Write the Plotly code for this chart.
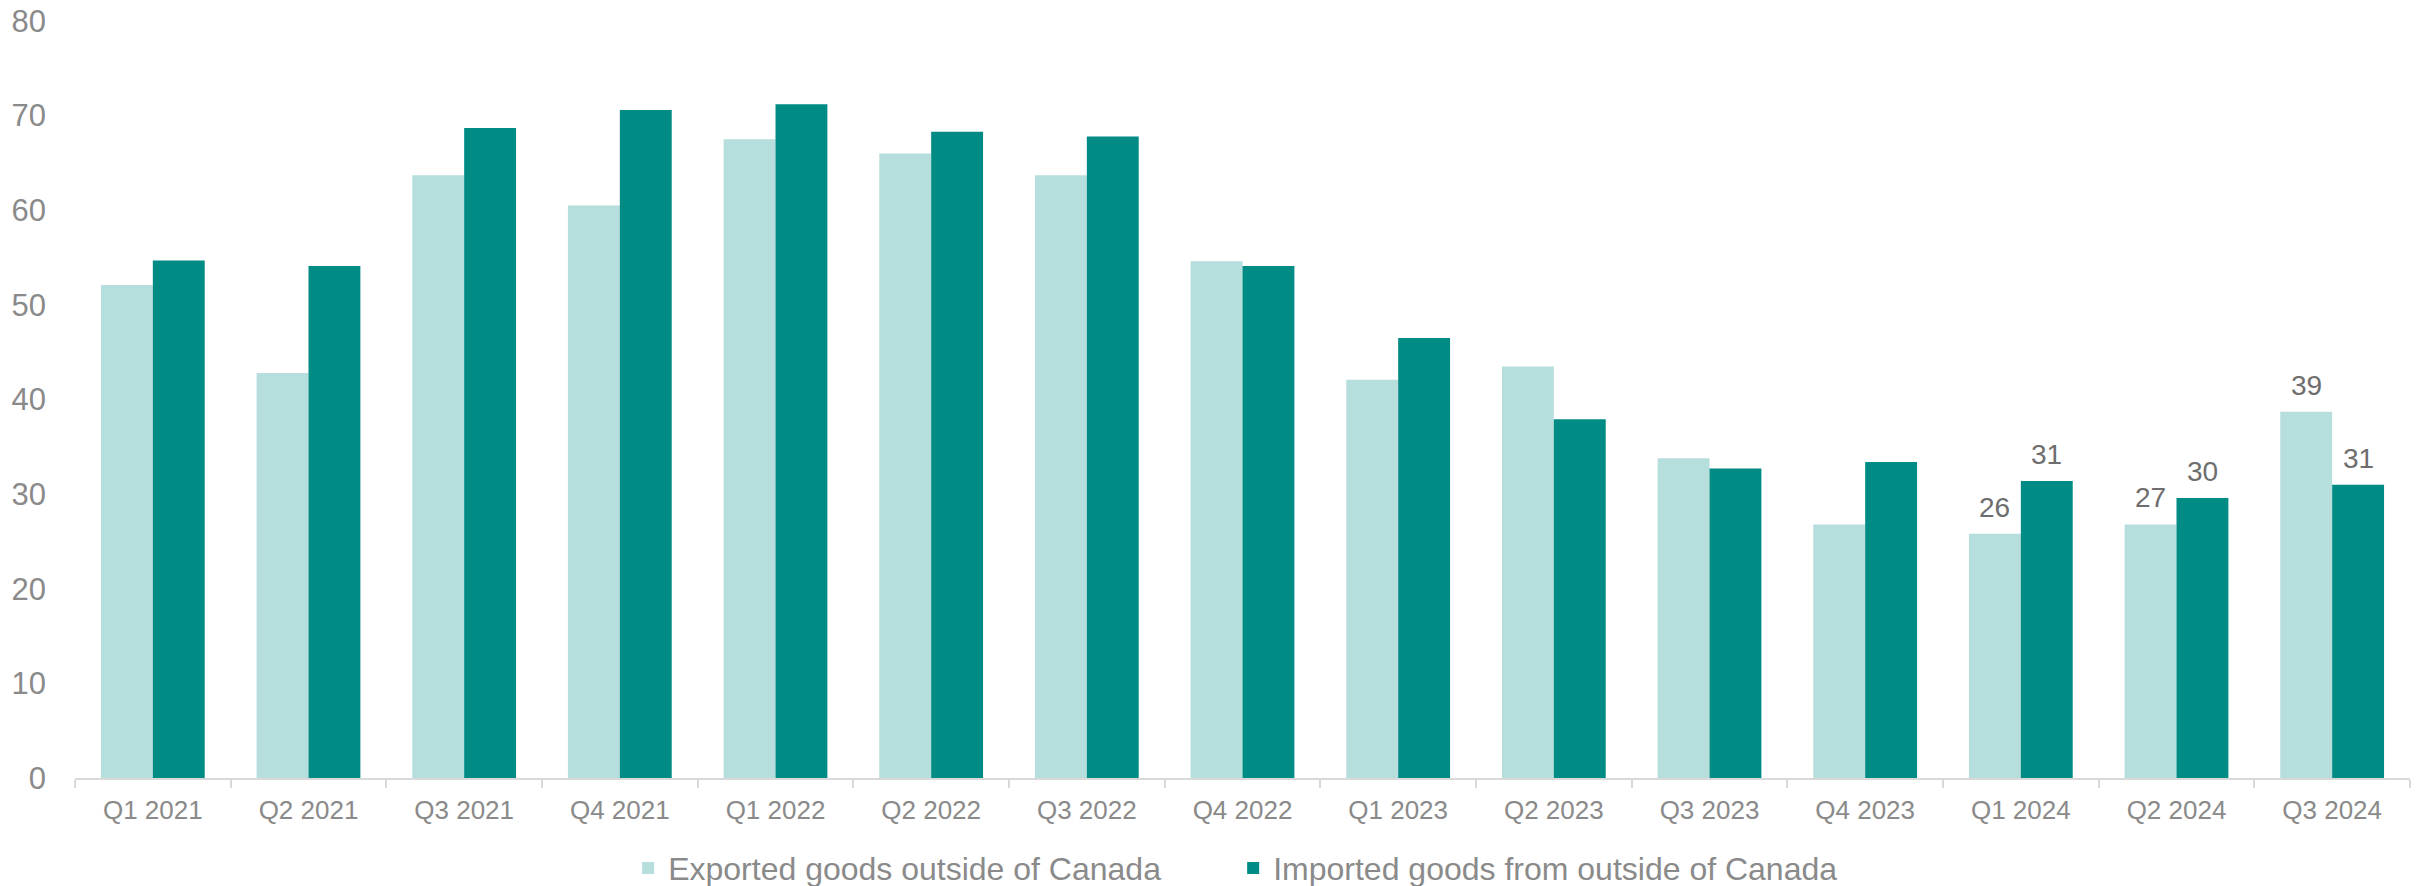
import plotly.graph_objects as go

categories = ["Q1 2021", "Q2 2021", "Q3 2021", "Q4 2021", "Q1 2022", "Q2 2022", "Q3 2022",
              "Q4 2022", "Q1 2023", "Q2 2023", "Q3 2023", "Q4 2023", "Q1 2024", "Q2 2024", "Q3 2024"]
exported = [52.1, 42.8, 63.7, 60.5, 67.5, 66.0, 63.7, 54.6, 42.1, 43.5, 33.8, 26.8, 25.8, 26.8, 38.7]
imported = [54.7, 54.1, 68.7, 70.6, 71.2, 68.3, 67.8, 54.1, 46.5, 37.9, 32.7, 33.4, 31.4, 29.6, 31.0]
labelled_categories = ["Q1 2024", "Q2 2024", "Q3 2024"]
y_ticks = [0, 10, 20, 30, 40, 50, 60, 70, 80]

series_names = ["Exported goods outside of Canada", "Imported goods from outside of Canada"]
colors = ["#b5dedc", "#008b84"]

FONT = "Arial, Liberation Sans, sans-serif"
TICK_COLOR = "#8a8a8a"
LABEL_COLOR = "#6e6e6e"

fig = go.Figure()
for name, vals, col in zip(series_names, [exported, imported], colors):
    fig.add_trace(go.Bar(x=categories, y=vals, name=name, marker_color=col,
                         marker_line_width=0))

annotations = []
for si, vals in enumerate([exported, imported]):
    offset = -1 / 6 if si == 0 else 1 / 6
    for i, cat in enumerate(categories):
        if cat in labelled_categories:
            annotations.append(dict(
                x=i + offset, y=vals[i], xref="x", yref="y",
                text=str(int(round(vals[i]))), showarrow=False,
                yanchor="bottom", yshift=9,
                font=dict(family=FONT, size=28, color=LABEL_COLOR)))

# the page body adds an 8px margin, so the figure is 8px smaller and margins compensate
fig.update_layout(
    width=2417, height=878,
    margin=dict(l=67, r=15, t=13, b=108, autoexpand=False),
    paper_bgcolor="white", plot_bgcolor="white",
    barmode="group", bargap=1 / 3, bargroupgap=0,
    font=dict(family=FONT, color=TICK_COLOR),
    showlegend=True,
    legend=dict(orientation="h", x=0.496, xanchor="center", y=-0.119, yanchor="middle",
                font=dict(family=FONT, size=32, color=TICK_COLOR),
                itemwidth=30, traceorder="normal", entrywidth=560, entrywidthmode="pixels"),
    annotations=annotations,
)
fig.update_xaxes(
    type="category", showgrid=False, showline=True, linecolor="#d9d9d9", linewidth=2,
    ticks="outside", tickson="boundaries", ticklen=8, tickcolor="#d9d9d9", tickwidth=2,
    tickfont=dict(family=FONT, size=26, color=TICK_COLOR), zeroline=False, automargin=False,
    ticklabelstandoff=8,
)
fig.update_yaxes(
    range=[0, 80], tickvals=y_ticks, showgrid=False, showline=False, zeroline=False,
    tickfont=dict(family=FONT, size=31, color=TICK_COLOR), ticks="", ticklabelstandoff=28,
    automargin=False, ticklabeloverflow="allow",
)

fig.write_html("out.html")
